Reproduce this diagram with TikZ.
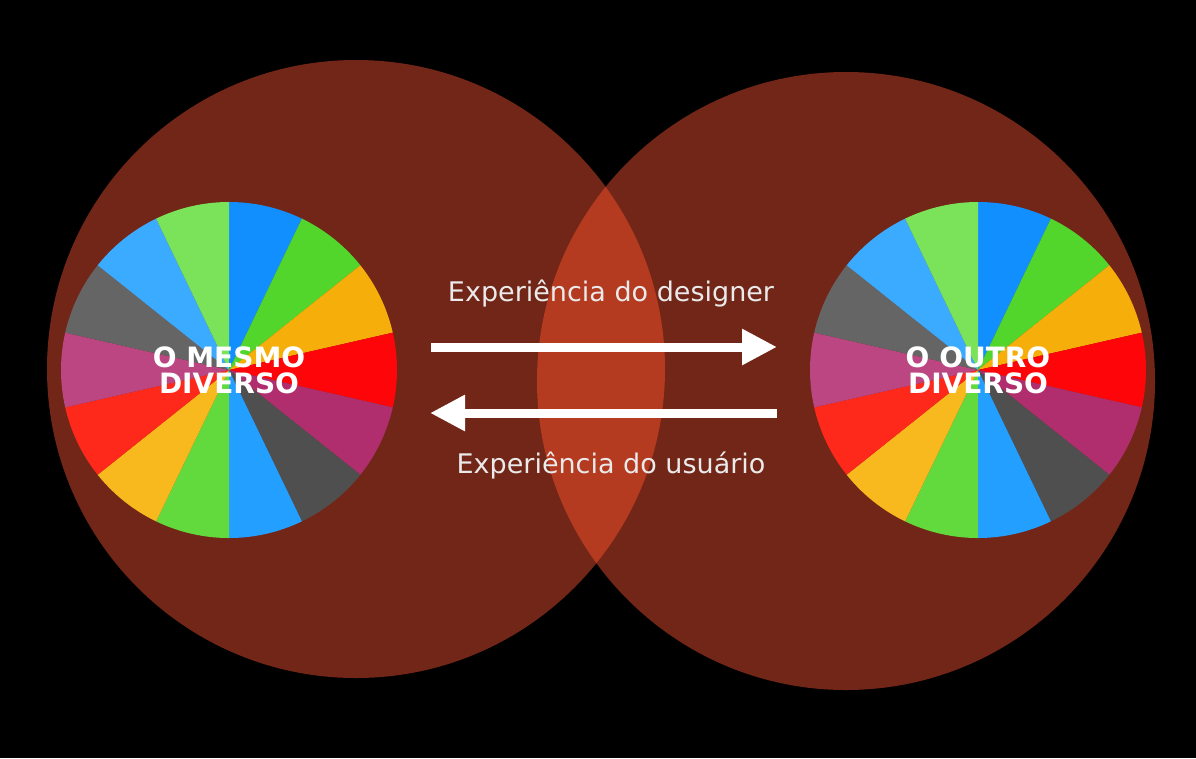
\documentclass[tikz,border=0pt]{standalone}
\usepackage{fontspec}
\setmainfont{DejaVu Sans}
\usetikzlibrary{arrows.meta}
\definecolor{bigc}{HTML}{722617}
\definecolor{ovl}{HTML}{B43A20}
\definecolor{txt}{HTML}{EAEAEA}
\definecolor{c1}{HTML}{118FFF}
\definecolor{c2}{HTML}{52D62C}
\definecolor{c3}{HTML}{F6AF0A}
\definecolor{c4}{HTML}{FD0509}
\definecolor{c5}{HTML}{B02E6E}
\definecolor{c6}{HTML}{4F4F4F}
\definecolor{c7}{HTML}{239FFF}
\definecolor{c8}{HTML}{62DA3E}
\definecolor{c9}{HTML}{F7B91D}
\definecolor{c10}{HTML}{FE291B}
\definecolor{c11}{HTML}{BC4682}
\definecolor{c12}{HTML}{656565}
\definecolor{c13}{HTML}{3BABFF}
\definecolor{c14}{HTML}{7BE359}
\tikzset{x=1pt,y=-1pt,
 lbl/.style={font=\fontsize{28}{32}\selectfont\bfseries, text=white, align=center},
 exp/.style={font=\fontsize{27}{30}\selectfont, text=txt},
 arr/.style={white, line width=9pt, -{Triangle[length=35pt,width=34pt]}}}
\newcommand{\wheel}[2]{%
 \foreach \i/\c in {1/c1,2/c2,3/c3,4/c4,5/c5,6/c6,7/c7,8/c8,9/c9,10/c10,11/c11,12/c12,13/c13,14/c14}{%
  \pgfmathsetmacro{\a}{90-(\i-1)*360/14}\pgfmathsetmacro{\b}{90-\i*360/14}%
  \fill[\c] (#1,#2) -- ++(\a:168) arc[start angle=\a, end angle=\b, radius=168] -- cycle;}}
\begin{document}
\begin{tikzpicture}
\fill[black] (0,0) rectangle (1196,758);
\useasboundingbox (0,0) rectangle (1196,758);
\fill[bigc] (356,369) circle (309);
\fill[bigc] (846,381) circle (309);
\begin{scope}
\clip (356,369) circle (309);
\fill[ovl] (846,381) circle (309);
\end{scope}
% wheels (note y axis inverted: angles mirror, so use negative y-ups)
\begin{scope}[y=1pt, yshift=-740pt]
\end{scope}
\begin{scope}[shift={(0,740)}, y=1pt]
\wheel{229}{370}
\wheel{978}{370}
\end{scope}
\node[lbl] (left) at (229,370) {O MESMO\\[-6pt]DIVERSO};
\node[lbl] (right) at (978,370) {O OUTRO\\[-6pt]DIVERSO};
\node[exp] (d) at (611,294) {Experiência do designer};
\node[exp] (u) at (611,466) {Experiência do usuário};
\coordinate (a1) at (431,347); \coordinate (a2) at (777,347);
\coordinate (b1) at (777,413); \coordinate (b2) at (430,413);
\draw[arr] (a1) -- (a2);
\draw[arr] (b1) -- (b2);
\end{tikzpicture}
\end{document}
